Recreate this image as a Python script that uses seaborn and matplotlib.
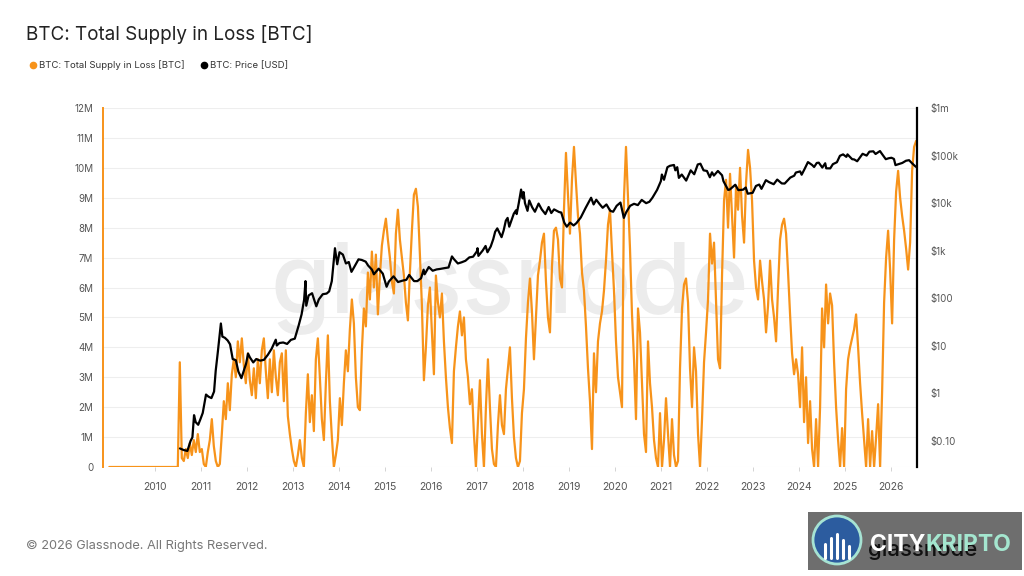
import matplotlib
matplotlib.use("Agg")
import matplotlib.pyplot as plt
from matplotlib.lines import Line2D
from matplotlib.patches import Rectangle, Ellipse
import matplotlib.ticker as mticker
import pandas as pd
import seaborn as sns

# ---------------- data ----------------
genesis_date = "2009-01-03"
supply_start = "2010-07-01"
supply_end = "2026-07-20"
# Total supply in loss (millions of BTC), read roughly every ~16 days
supply_m = [
    0, 3.5, 0.3, 0.2, 0.6, 0.3, 0.8, 0.4, 0.9, 0.5, 1.1, 0.5, 0.6, 0.1, 0.0, 0.5, 0.9, 1.6, 0.7, 0.2,
    0.0, 0.1, 1.1, 2.2, 1.6, 2.8, 1.9, 3.1, 3.6, 3.0, 4.2, 3.5, 4.3, 3.4, 2.8, 3.8, 2.9, 2.4, 3.3, 2.3,
    3.6, 2.8, 3.9, 4.3, 3.2, 2.3, 3.6, 2.5, 3.9, 3.0, 2.4, 3.5, 3.8, 2.2, 3.9, 1.7, 1.1, 0.6, 0.2, 0.0,
    0.4, 0.9, 0.3, 0.0, 1.8, 3.1, 1.5, 2.4, 1.2, 3.6, 4.3, 3.0, 1.6, 0.9, 2.8, 4.4, 2.2, 1.0, 0.0, 0.4,
    0.9, 2.3, 1.4, 2.8, 3.9, 3.2, 4.6, 5.6, 4.8, 3.0, 2.0, 1.9, 3.9, 5.3, 4.7, 6.5, 5.6, 7.2, 6.0, 7.1,
    5.1, 6.4, 7.4, 7.9, 8.3, 7.6, 7.0, 6.2, 5.8, 7.8, 8.6, 7.6, 7.0, 6.4, 5.5, 4.9, 6.5, 7.9, 9.1, 9.3,
    8.7, 7.1, 5.4, 2.9, 4.0, 5.4, 6.0, 4.5, 3.1, 6.4, 5.5, 5.0, 5.8, 4.2, 3.0, 2.0, 1.3, 0.8, 3.2, 4.0,
    4.7, 5.2, 4.4, 5.0, 3.6, 3.0, 2.1, 2.6, 1.1, 0.0, 1.5, 2.9, 1.1, 0.0, 2.0, 3.6, 2.0, 0.6, 0.1, 0.0,
    1.4, 2.4, 1.4, 1.1, 2.6, 3.3, 4.0, 2.3, 1.0, 0.3, 0.0, 0.2, 1.8, 2.6, 4.3, 5.5, 6.3, 5.2, 3.6, 5.0,
    6.4, 6.9, 7.5, 7.8, 6.2, 5.0, 4.5, 6.7, 7.9, 8.0, 7.6, 6.3, 6.0, 8.6, 10.5, 9.1, 7.8, 9.6, 10.7, 9.5,
    8.4, 7.8, 6.5, 5.9, 4.7, 3.3, 2.2, 0.6, 3.8, 2.5, 4.2, 4.8, 5.2, 5.9, 6.9, 8.1, 8.6, 7.2, 5.9, 4.2,
    3.0, 2.5, 2.0, 9.0, 10.7, 9.0, 7.3, 5.1, 3.6, 1.6, 5.3, 4.5, 2.8, 1.1, 0.5, 4.2, 2.8, 2.0, 0.9, 0.3,
    0.0, 1.8, 0.0, 0.9, 2.3, 1.1, 0.0, 1.6, 0.4, 0.0, 0.2, 3.3, 5.3, 6.1, 6.3, 5.5, 3.3, 2.0, 4.0, 3.2,
    1.1, 0.0, 1.6, 3.5, 4.5, 5.6, 7.8, 6.8, 7.5, 5.6, 3.6, 3.3, 6.4, 8.9, 9.6, 8.0, 9.8, 8.4, 7.0, 9.4,
    8.6, 10.0, 8.4, 7.5, 9.5, 10.6, 10.0, 8.9, 6.9, 6.0, 5.6, 6.9, 6.2, 5.6, 4.5, 5.4, 6.9, 5.6, 5.0, 4.2,
    6.0, 7.6, 8.1, 8.3, 7.8, 6.5, 5.1, 3.8, 3.1, 3.6, 3.1, 2.0, 4.0, 1.5, 3.0, 0.8, 2.2, 0.6, 0.0, 1.6,
    0.0, 2.0, 5.3, 4.0, 6.1, 4.8, 5.8, 5.4, 3.5, 2.0, 0.9, 0.0, 1.3, 0.0, 2.6, 3.6, 4.0, 4.3, 4.6, 5.1,
    4.0, 2.8, 1.8, 0.9, 0.0, 1.6, 0.0, 1.2, 0.0, 1.0, 2.1, 0.0, 2.5, 5.5, 7.0, 7.9, 6.6, 4.8, 7.6, 9.2,
    9.9, 9.0, 8.4, 7.9, 7.3, 6.6, 7.5, 9.9, 10.7, 10.9,
]

price_dates = [
    "2010-07-18", "2010-08-15", "2010-09-15", "2010-10-10", "2010-10-25", "2010-11-07", "2010-11-20",
    "2010-12-10", "2010-12-28", "2011-01-15", "2011-02-10", "2011-03-01", "2011-03-25", "2011-04-15",
    "2011-04-28", "2011-05-15", "2011-06-08", "2011-06-20", "2011-07-10", "2011-08-01", "2011-08-20",
    "2011-09-10", "2011-10-05", "2011-10-25", "2011-11-18", "2011-12-05", "2011-12-25", "2012-01-10",
    "2012-01-25", "2012-02-20", "2012-03-15", "2012-04-15", "2012-05-15", "2012-06-15", "2012-07-15",
    "2012-08-17", "2012-08-25", "2012-09-15", "2012-10-15", "2012-11-15", "2012-12-15", "2013-01-15",
    "2013-02-15", "2013-03-10", "2013-03-30", "2013-04-10", "2013-04-16", "2013-05-05", "2013-06-01",
    "2013-07-05", "2013-07-25", "2013-08-25", "2013-09-25", "2013-10-15", "2013-11-05", "2013-11-30",
    "2013-12-18", "2014-01-05", "2014-02-01", "2014-02-25", "2014-03-20", "2014-04-10", "2014-05-01",
    "2014-06-05", "2014-07-01", "2014-08-01", "2014-08-20", "2014-09-20", "2014-10-05", "2014-11-12",
    "2014-12-15", "2015-01-14", "2015-02-01", "2015-03-10", "2015-04-15", "2015-05-20", "2015-06-20",
    "2015-07-12", "2015-08-20", "2015-09-15", "2015-10-15", "2015-11-04", "2015-11-12", "2015-12-15",
    "2016-01-15", "2016-02-15", "2016-03-15", "2016-04-15", "2016-05-20", "2016-06-16", "2016-07-01",
    "2016-08-02", "2016-09-01", "2016-10-01", "2016-11-01", "2016-12-01", "2016-12-31", "2017-01-05",
    "2017-01-12", "2017-02-15", "2017-03-10", "2017-03-25", "2017-04-20", "2017-05-10", "2017-05-25",
    "2017-06-11", "2017-07-15", "2017-08-01", "2017-08-18", "2017-09-01", "2017-09-14", "2017-10-01",
    "2017-10-20", "2017-11-07", "2017-11-12", "2017-11-28", "2017-12-17", "2017-12-30", "2018-01-06",
    "2018-01-17", "2018-02-06", "2018-02-20", "2018-03-15", "2018-04-06", "2018-05-05", "2018-05-30",
    "2018-06-28", "2018-07-24", "2018-08-14", "2018-09-05", "2018-10-15", "2018-11-01", "2018-11-25",
    "2018-12-15", "2019-01-10", "2019-02-07", "2019-03-01", "2019-04-05", "2019-05-14", "2019-06-26",
    "2019-07-16", "2019-08-06", "2019-09-01", "2019-09-26", "2019-10-26", "2019-11-25", "2019-12-18",
    "2020-01-15", "2020-02-14", "2020-03-12", "2020-03-30", "2020-05-01", "2020-06-01", "2020-07-01",
    "2020-08-01", "2020-09-05", "2020-10-01", "2020-10-25", "2020-12-01", "2020-12-31", "2021-01-08",
    "2021-01-25", "2021-02-21", "2021-03-13", "2021-04-14", "2021-04-25", "2021-05-10", "2021-05-23",
    "2021-06-15", "2021-07-20", "2021-08-25", "2021-09-22", "2021-10-20", "2021-11-10", "2021-12-05",
    "2022-01-01", "2022-01-24", "2022-02-10", "2022-02-25", "2022-03-29", "2022-05-01", "2022-05-12",
    "2022-06-18", "2022-07-01", "2022-08-14", "2022-09-07", "2022-10-15", "2022-11-05", "2022-11-21",
    "2022-12-30", "2023-01-25", "2023-02-20", "2023-03-10", "2023-04-14", "2023-05-10", "2023-06-15",
    "2023-07-13", "2023-08-18", "2023-09-10", "2023-10-25", "2023-11-25", "2023-12-08", "2024-01-11",
    "2024-01-23", "2024-02-15", "2024-03-13", "2024-04-15", "2024-05-01", "2024-05-22", "2024-06-07",
    "2024-07-05", "2024-07-28", "2024-08-05", "2024-09-06", "2024-09-27", "2024-10-29", "2024-11-22",
    "2024-12-17", "2025-01-12", "2025-01-21", "2025-02-27", "2025-03-15", "2025-04-08", "2025-05-21",
    "2025-06-22", "2025-07-14", "2025-08-14", "2025-09-01", "2025-10-06", "2025-10-20", "2025-11-21",
    "2025-12-15", "2026-01-05", "2026-01-25", "2026-02-06", "2026-03-01", "2026-04-01", "2026-05-01",
    "2026-05-25", "2026-06-20", "2026-07-18",
]
price_usd = [
    0.07, 0.065, 0.062, 0.10, 0.12, 0.35, 0.25,
    0.22, 0.29, 0.39, 0.95, 0.86, 0.80, 1.1,
    3.0, 7.5, 29.6, 15.7, 14.8, 13.0, 10.8,
    5.3, 5.0, 2.9, 2.1, 2.9, 4.2, 6.9,
    5.7, 4.5, 5.3, 4.9, 5.1, 6.5, 8.7,
    13.5, 10.2, 11.5, 11.8, 11.0, 13.4, 14.2,
    27, 46, 93, 230, 70, 115, 128,
    68, 95, 122, 126, 140, 230, 1130,
    520, 930, 830, 540, 580, 360, 450,
    660, 640, 590, 490, 400, 320, 420,
    330, 175, 225, 290, 220, 235, 245,
    310, 230, 230, 265, 400, 320, 455,
    380, 405, 415, 430, 445, 760, 670,
    540, 572, 615, 725, 750, 970, 1130,
    780, 1010, 1260, 930, 1230, 1750, 2500,
    2950, 1930, 2700, 4300, 4900, 3200, 4300,
    6000, 7100, 5900, 9800, 19300, 12600, 17100,
    10000, 6900, 11400, 8200, 6600, 9800, 7400,
    5900, 8300, 6200, 7400, 6500, 6350, 3900,
    3200, 3900, 3400, 3800, 5000, 8000, 13000,
    9400, 11800, 9600, 8000, 9400, 6900, 6600,
    8800, 10300, 4900, 6400, 8800, 9700, 9100,
    11700, 10000, 10700, 13000, 19000, 29000, 40000,
    31000, 57000, 61000, 63500, 49000, 57000, 34000,
    40000, 29800, 49000, 40500, 65000, 67500, 49000,
    47500, 35000, 44500, 38000, 47500, 38500, 29000,
    19000, 19300, 24400, 18800, 19200, 21300, 15800,
    16500, 23000, 24600, 20000, 30400, 27600, 25000,
    31300, 26000, 25800, 34500, 37800, 44000, 46500,
    39600, 52000, 73000, 63500, 57500, 70000, 71000,
    56000, 69000, 54000, 53800, 66000, 72500, 99000,
    106000, 94000, 106000, 84000, 83000, 76000, 109000,
    100000, 121000, 123000, 108000, 124500, 110000, 84000,
    88000, 90000, 85000, 63000, 66000, 70000, 78000,
    80000, 68000, 58000,
]

left_ticks_m = list(range(0, 13))
right_ticks = [0.1, 1, 10, 100, 1e3, 1e4, 1e5, 1e6]
right_labels = ["$0.10", "$1", "$10", "$100", "$1k", "$10k", "$100k", "$1m"]
year_ticks = list(range(2010, 2027))

title = "BTC: Total Supply in Loss [BTC]"
legend_labels = ["BTC: Total Supply in Loss [BTC]", "BTC: Price [USD]"]
footer = "\u00a9 2026 Glassnode. All Rights Reserved."

# ---------------- frame ----------------
supply_dates = [pd.Timestamp(genesis_date)] + list(
    pd.date_range(supply_start, supply_end, periods=len(supply_m)))
supply_vals = [0.0] + [v * 1e6 for v in supply_m]
df_s = pd.DataFrame({"date": supply_dates, "supply": supply_vals})
df_p = pd.DataFrame({"date": pd.to_datetime(price_dates), "price": price_usd})

ORANGE = "#f7931a"
sns.set_theme(style="white")
plt.rcParams["font.family"] = ["Inter", "DejaVu Sans"]

fig = plt.figure(figsize=(10.24, 5.76), dpi=100)
ax = fig.add_axes([103 / 1024, 109 / 576, 814 / 1024, 359 / 576])
ax2 = ax.twinx()

for y in left_ticks_m:
    ax.axhline(y * 1e6, color="#eeeeee", lw=0.8, zorder=0)

ax.text(0.5, 0.5, "glassnode", transform=ax.transAxes, ha="center", va="center",
        fontsize=70, color="#ececec", fontweight="medium", zorder=0)

sns.lineplot(data=df_s, x="date", y="supply", ax=ax, color=ORANGE, lw=1.6,
             estimator=None, legend=False, zorder=2)
sns.lineplot(data=df_p, x="date", y="price", ax=ax2, color="black", lw=1.6,
             estimator=None, legend=False, zorder=3)

xmin, xmax = pd.Timestamp("2008-11-14"), pd.Timestamp("2026-07-27")
ax.set_xlim(xmin, xmax)
ax.set_ylim(0, 12e6)
ax2.set_yscale("log")
ax2.set_ylim(10 ** -1.545, 1e6)

ax.set_yticks([v * 1e6 for v in left_ticks_m])
ax.set_yticklabels(["0"] + [f"{v}M" for v in left_ticks_m[1:]])
ax2.set_yticks(right_ticks)
ax2.set_yticklabels(right_labels)
ax2.yaxis.set_minor_locator(mticker.NullLocator())

ax.set_xticks([pd.Timestamp(f"{y}-01-01") for y in year_ticks])
ax.set_xticklabels([str(y) for y in year_ticks])

ax.set_xlabel("")
ax.set_ylabel("")
ax2.set_ylabel("")
ax.tick_params(axis="y", length=0, pad=7, labelsize=7, labelcolor="#555555")
ax2.tick_params(axis="y", length=0, pad=10, labelsize=7, labelcolor="#555555")
ax.tick_params(axis="x", length=3, width=0.6, color="#cccccc", pad=8,
               labelsize=7.5, labelcolor="#555555", bottom=True)

for sp in ["top", "bottom"]:
    ax.spines[sp].set_visible(False)
    ax2.spines[sp].set_visible(False)
ax.spines["right"].set_visible(False)
ax.spines["left"].set_color(ORANGE)
ax.spines["left"].set_linewidth(1.4)
ax2.spines["left"].set_visible(False)
ax2.spines["right"].set_color("black")
ax2.spines["right"].set_linewidth(1.6)
ax.patch.set_alpha(0)
ax2.patch.set_alpha(0)

# title, legend, footer
fig.text(26 / 1024, 1 - 35 / 576, title, fontsize=13.6, color="#222222", va="center")
handles = [Line2D([], [], marker="o", ls="", color=ORANGE, markersize=4.5),
           Line2D([], [], marker="o", ls="", color="black", markersize=4.5)]
fig.legend(handles, legend_labels, loc="center left", bbox_to_anchor=(20 / 1024, 1 - 65 / 576),
           ncol=2, frameon=False, fontsize=6.9, handletextpad=0.1, columnspacing=1.5,
           handlelength=1.0, labelcolor="#333333")
fig.text(26 / 1024, 1 - 546 / 576, footer, fontsize=9.2, color="#777777", va="center")

# logo box
fig.patches.append(Rectangle((808 / 1024, 6 / 576), 214 / 1024, 58 / 576,
                             transform=fig.transFigure, facecolor="#6e6e6e", edgecolor="none"))
fig.patches.append(Ellipse((837 / 1024, 1 - 540 / 576), 48 / 1024, 48 / 576,
                           transform=fig.transFigure, facecolor="#2c5c9f",
                           edgecolor="#a6e3d3", lw=2))
for bx, bh in [(825, 14), (831, 20), (837, 24), (843, 18), (849, 12)]:
    fig.add_artist(Line2D([bx / 1024, bx / 1024], [1 - 558 / 576, 1 - (558 - bh) / 576],
                          transform=fig.transFigure, color="white", lw=2.2))
fig.text(868 / 1024, 1 - 550 / 576, "glassnode", fontsize=16, color="#111111", va="center",
         fontweight="medium")
t_city = fig.text(870 / 1024, 1 - 545 / 576, "CITY", fontsize=16.5, color="white",
                  va="center", fontweight="bold")
fig.canvas.draw()
bb = t_city.get_window_extent(renderer=fig.canvas.get_renderer())
fig.text(bb.x1 / fig.bbox.width, 1 - 545 / 576, "KRIPTO", fontsize=16.5, color="#a4e6cf",
         va="center", fontweight="bold")

fig.savefig("out.png", dpi=100)
